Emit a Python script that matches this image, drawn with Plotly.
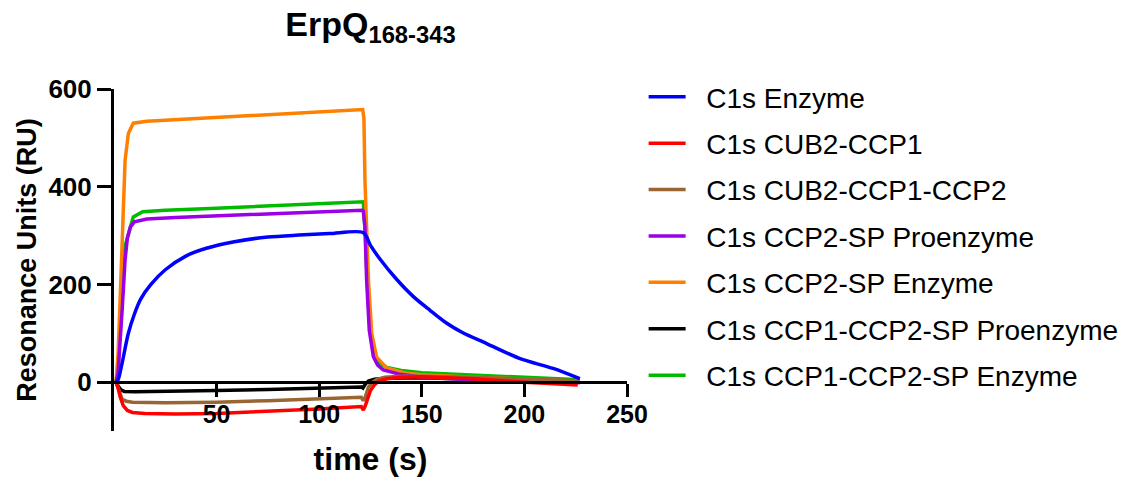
import plotly.graph_objects as go

# ---- data (time in s, response in RU) ----
names = ["C1s Enzyme", "C1s CUB2-CCP1", "C1s CUB2-CCP1-CCP2", "C1s CCP2-SP Proenzyme",
         "C1s CCP2-SP Enzyme", "C1s CCP1-CCP2-SP Proenzyme", "C1s CCP1-CCP2-SP Enzyme"]
colors = ["#0000FF", "#FF0000", "#996633", "#9B00E6", "#FF8000", "#000000", "#00BB00"]

blue_t = [1, 2, 4, 7, 10, 13, 18, 25, 35, 45, 58, 75, 90, 105, 121.5,
          125, 129.6, 137.8, 145.9, 154, 162, 170, 181.6, 197.9, 214, 227]
blue_y = [0, 5, 40, 100, 140, 170, 200, 230, 258, 274, 287, 297, 301, 304, 306,
          280, 252, 210, 175, 147, 121, 101, 79, 48, 28, 7]

red_t = [1, 2, 3, 4.5, 6.5, 9, 15, 30, 50, 75, 100, 120.5, 121.5, 122.5, 123.5, 125, 127,
         129, 133, 140, 150, 175, 200, 226]
red_y = [0, -12, -30, -48, -58, -62, -64, -65, -64, -60, -55, -50, -57, -48, -35, -17, -5,
         2, 7, 10, 11, 7, 0, -6]

brown_t = [1, 2.5, 4, 6, 9, 25, 50, 75, 100, 120.5, 121.5, 122.5, 124, 126, 128, 132, 140,
           150, 175, 200, 227]
brown_y = [0, -20, -35, -39, -41, -42, -41, -38, -35, -31, -38, -30, -10, 0, 5, 10, 12,
           12, 10, 7, 3]

purple_t = [1, 2, 4, 5.4, 6.5, 8, 10, 16, 30, 60, 90, 121, 121.5, 122.3, 123.1, 124.4, 126.4,
            128.5, 131.2, 135, 139.4, 150, 175, 200, 227]
purple_y = [0, 20, 150, 250, 295, 318, 328, 334, 337, 342, 347, 352, 350, 318, 209, 106, 52,
            35, 25, 20, 16, 10, 5, 2, -1]

orange_t = [1, 2, 3, 3.7, 4.5, 5.4, 7, 9.4, 15.9, 20, 40, 60, 80, 100, 121.2, 121.8, 122.3,
            124, 125.6, 128, 132.9, 142.6, 150, 175, 200, 227]
orange_y = [0, 60, 170, 250, 360, 454, 509, 530, 534, 535, 539, 544, 549, 553, 558, 540, 413,
            209, 100, 51, 29, 18, 15, 10, 6, 2]

black_t = [1, 2, 3.5, 5, 10, 25, 50, 75, 100, 120.5, 121.3, 122.5, 124, 127, 132, 140, 150,
           175, 200, 227]
black_y = [0, -8, -16, -19, -19.5, -19, -17, -15, -12.5, -10, -12, -4, 2, 6, 8, 9, 9,
           6, 3, 0]

green_t = [1, 2, 3, 4.5, 5.5, 7, 9.4, 14, 25, 50, 75, 100, 121.5, 121.8, 122.5, 123.3, 124.5,
           126.5, 129, 133, 140, 150, 175, 200, 227]
green_y = [0, 30, 120, 250, 280, 305, 338, 349, 352, 356, 360, 365, 369, 345, 300, 220, 125,
           62, 40, 30, 24, 19, 14, 9, 5]

series_t = [blue_t, red_t, brown_t, purple_t, orange_t, black_t, green_t]
series_y = [blue_y, red_y, brown_y, purple_y, orange_y, black_y, green_y]
smooth = [True, False, False, False, False, False, False]

x_ticks = [50, 100, 150, 200, 250]
y_ticks = [0, 200, 400, 600]

FONT = "Arial, Liberation Sans, Helvetica, sans-serif"
PAD = "\u00a0\u00a0"  # small gap between legend line and its label

fig = go.Figure()
# draw in reverse so the first series sits on top, as in the reference
for i in reversed(range(len(names))):
    fig.add_trace(go.Scatter(
        x=series_t[i], y=series_y[i], mode="lines", name=PAD + names[i],
        line=dict(color=colors[i], width=3.5,
                  shape="spline" if smooth[i] else "linear", smoothing=0.8),
        legendrank=i + 1, legendgroup=f"g{i}",
    ))

fig.update_layout(
    width=1130, height=479,
    margin=dict(l=106, r=511, t=81, b=56, autoexpand=False),
    plot_bgcolor="white", paper_bgcolor="white",
    font=dict(family=FONT, color="black"),
    title=dict(text="<b>ErpQ<sub>168-343</sub></b>", x=0.5, xref="paper", xanchor="center",
               y=0.966, yref="container", yanchor="middle",
               font=dict(size=34, family=FONT, color="black")),
    xaxis=dict(range=[0, 250], tickvals=x_ticks, ticktext=[str(v) for v in x_ticks],
               anchor="free", position=100 / 700, automargin=False,
               showline=True, linecolor="black", linewidth=3,
               ticks="outside", ticklen=13, tickwidth=3, tickcolor="black",
               showgrid=False, zeroline=False,
               tickfont=dict(size=25, family=FONT, color="black", weight="bold"),
               ticklabelstandoff=-4,
               title=dict(text="<b>time (s)</b>", standoff=20,
                          font=dict(size=32, family=FONT, color="black"))),
    yaxis=dict(range=[-100, 600], tickvals=y_ticks, automargin=False,
               showline=True, linecolor="black", linewidth=3,
               ticks="outside", ticklen=14, tickwidth=3, tickcolor="black",
               showgrid=False, zeroline=False,
               tickfont=dict(size=26, family=FONT, color="black", weight="bold"),
               ticklabelstandoff=0,
               title=dict(text="<b>Resonance Units (RU)</b>", standoff=4,
                          font=dict(size=27, family=FONT, color="black"))),
    legend=dict(xref="container", yref="paper", x=0.5625, xanchor="left",
                y=0.570, yanchor="middle",
                font=dict(size=28, family=FONT, color="black"),
                tracegroupgap=7, itemwidth=37, bgcolor="rgba(0,0,0,0)"),
    showlegend=True,
)

fig.write_html("out.html")
